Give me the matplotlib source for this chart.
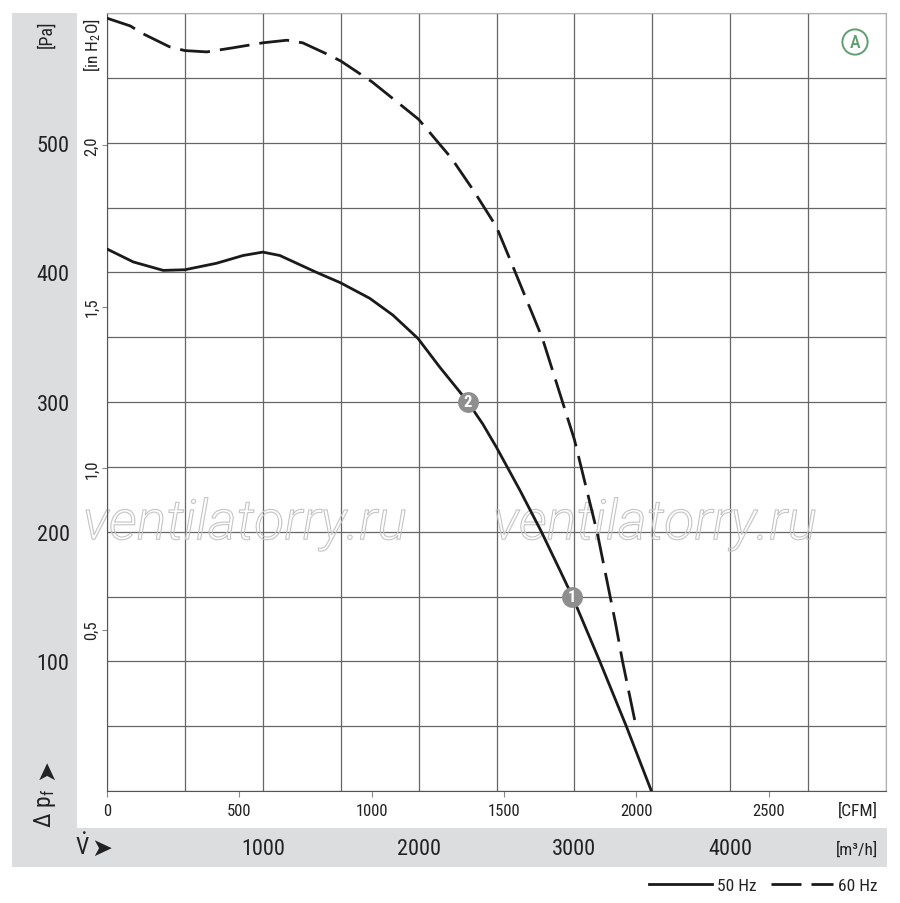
import numpy as np
import matplotlib
matplotlib.use('Agg')
import matplotlib.pyplot as plt
import matplotlib.patheffects as pe
from matplotlib.patches import Rectangle

# Kennlinie 50 Hz: Volumenstrom [m3/h] / Druck [Pa]
flow_50 = [0, 169, 361, 500, 703, 874, 1000, 1109, 1344, 1498, 1686, 1835, 1996,
           2135, 2263, 2316, 2412, 2500, 2650, 2788, 2900, 2987, 3163, 3333, 3494]
pa_50 = [418, 408, 401.5, 402, 407, 413, 415.6, 413, 400, 392, 380, 367, 349,
         327, 308, 300, 283, 265, 232, 200, 172, 150, 100, 50, 0]

# Kennlinie 60 Hz
flow_60 = [0, 150, 231, 400, 500, 641, 800, 1000, 1154, 1256, 1400, 1500, 1700, 1897,
           2000, 2211, 2353, 2500, 2583, 2795, 3000, 3147, 3263, 3309, 3397]
pa_60 = [596, 590, 584, 574, 571, 570, 573, 577, 579, 577, 569, 563, 547, 528,
         518, 488, 463, 435, 411, 349, 271, 199, 130, 100, 49]

# Betriebspunkte
op_flow = [2987, 2316]
op_pa = [150, 300]
op_label = ['1', '2']

pa_ticks = [100, 200, 300, 400, 500]
inh2o_ticks = [0.5, 1.0, 1.5, 2.0]
inh2o_labels = ['0,5', '1,0', '1,5', '2,0']
cfm_ticks = [0, 500, 1000, 1500, 2000, 2500]
m3h_ticks = [1000, 2000, 3000, 4000]
legend_labels = ['50 Hz', '60 Hz']

plt.rcParams['font.family'] = ['Roboto Condensed', 'DejaVu Sans']
plt.rcParams['mathtext.fontset'] = 'custom'
plt.rcParams['mathtext.rm'] = 'Roboto Condensed'
plt.rcParams['mathtext.it'] = 'Roboto Condensed:italic'
plt.rcParams['lines.scale_dashes'] = False

W, H = 900, 904
def fx(px):
    return px / W
def fy(py):
    return 1 - py / H

txt = '#222222'
band = '#dcdddf'
green = '#5f9f6f'

fig = plt.figure(figsize=(9, 9.04), dpi=100)
fig.patches.append(Rectangle((fx(12), fy(868)), fx(77) - fx(12), fy(14) - fy(868),
                             transform=fig.transFigure, fc=band, ec='none', zorder=-1))
fig.patches.append(Rectangle((fx(12), fy(868)), fx(887) - fx(12), fy(829) - fy(868),
                             transform=fig.transFigure, fc=band, ec='none', zorder=-1))

ax = fig.add_axes([fx(107), fy(792), fx(886) - fx(107), fy(14) - fy(792)])
ax.patch.set_alpha(0)
ax.set_xlim(0, 5000)
ax.set_ylim(0, 600)

# Gitter + Pa / m3/h Beschriftung
ax.set_xticks(np.arange(0, 5001, 500))
ax.set_xticklabels([str(v) if v in m3h_ticks else '' for v in np.arange(0, 5001, 500)])
ax.set_yticks(np.arange(0, 601, 50))
ax.set_yticklabels([str(v) if v in pa_ticks else '' for v in np.arange(0, 601, 50)])
ax.tick_params(axis='x', length=0, pad=34, labelsize=16, labelcolor=txt)
ax.tick_params(axis='y', length=0, pad=27, labelsize=16, labelcolor=txt)
ax.grid(True, color='#666666', lw=0.9)
ax.set_axisbelow(True)
for s in ['left', 'bottom']:
    ax.spines[s].set_color('#555555')
for s in ['top', 'right']:
    ax.spines[s].set_color('#b0b0b0')

# CFM Achse
secx = ax.secondary_xaxis('bottom', functions=(lambda q: q / 1.699, lambda c: c * 1.699))
secx.set_xticks(cfm_ticks)
secx.tick_params(length=4.3, color='#888888', pad=4, labelsize=12, labelcolor=txt)
secx.spines['bottom'].set_visible(False)

# in H2O Achse
secy = ax.secondary_yaxis('left', functions=(lambda p: p / 249.09, lambda h: h * 249.09))
secy.set_yticks(inh2o_ticks)
secy.set_yticklabels(inh2o_labels, rotation=90, va='center')
secy.tick_params(length=3.6, color='#888888', pad=2, labelsize=12, labelcolor=txt)
secy.spines['left'].set_visible(False)

# Wasserzeichen
for cx in [245, 655]:
    t = ax.text((cx - 107) / 779, (792 - 525) / 778, 'ventilatorry.ru', transform=ax.transAxes,
                ha='center', va='center', fontsize=40, style='italic', fontweight=300,
                family='Roboto', color=(1, 1, 1, 0), zorder=1.5, clip_on=False)
    t.set_path_effects([pe.Stroke(linewidth=0.8, foreground='#c4c4c4')])

l50, = ax.plot(flow_50, pa_50, color='#1a1a1a', lw=2.0, zorder=3, solid_joinstyle='round')
l60, = ax.plot(flow_60, pa_60, color='#1a1a1a', lw=2.0, zorder=3, dashes=(21.6, 7.2))

ax.plot(op_flow, op_pa, 'o', ms=15, color='#8e8e8e', mec='none', zorder=4)
for xq, yq, lb in zip(op_flow, op_pa, op_label):
    ax.text(xq, yq, lb, ha='center', va='center', color='white', fontsize=12,
            fontweight='bold', zorder=5)

ax.text((855 - 107) / 779, (792 - 43) / 778, 'A', transform=ax.transAxes, ha='center',
        va='center', color=green, fontsize=13, fontweight='medium',
        bbox=dict(boxstyle='circle,pad=0.2', fc='white', ec=green, lw=1.4))

# Einheiten und Achsentitel
fig.text(fx(46), fy(34), '[Pa]', rotation=90, ha='center', va='center', fontsize=13, color=txt)
fig.text(fx(92), fy(45), r'[in H$_2$O]', rotation=90, ha='center', va='center', fontsize=12.5, color=txt)
fig.text(fx(878), fy(811), '[CFM]', ha='right', va='center', fontsize=12.5, color=txt)
fig.text(fx(878), fy(850), '[m³/h]', ha='right', va='center', fontsize=12.5, color=txt)
fig.text(fx(82), fy(847), r'$\dot{\mathrm{V}}$', ha='center', va='center', fontsize=17, color=txt)
fig.text(fx(102), fy(849), '➤', family='DejaVu Sans', ha='center', va='center', fontsize=18, color=txt)
fig.text(fx(45), fy(808), r'$\Delta\ \mathrm{p}_\mathrm{f}$', rotation=90, ha='center', va='center',
         fontsize=17, color=txt)
fig.text(fx(46), fy(770), '➤', rotation=90, family='DejaVu Sans', ha='center', va='center',
         fontsize=18, color=txt)

fig.legend([l50, l60], legend_labels, loc='center right', bbox_to_anchor=(fx(878), fy(886)),
           ncol=2, frameon=False, fontsize=12.5, handlelength=3.6, handletextpad=0.3,
           columnspacing=0.8, labelcolor=txt, borderpad=0, borderaxespad=0)

fig.savefig('out.png', dpi=100)
